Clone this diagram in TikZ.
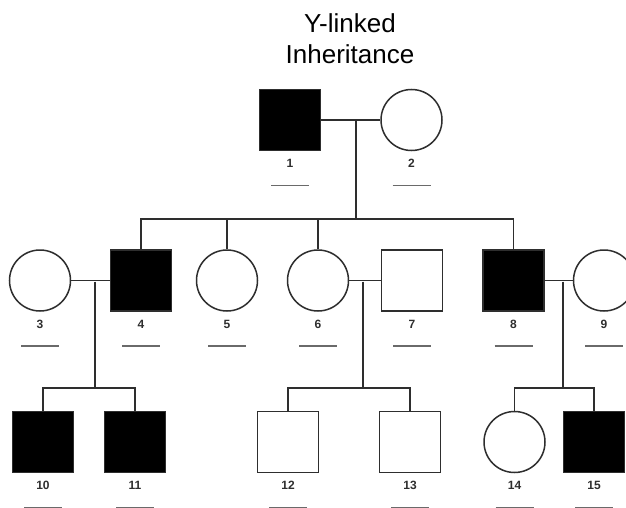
\documentclass[tikz,border=0pt]{standalone}
\usepackage{fontspec}
\setmainfont{Liberation Sans}
\usetikzlibrary{positioning,calc}
\definecolor{inkline}{HTML}{2E2E2E}
\definecolor{blankline}{HTML}{6A6A6A}

\begin{document}
\begin{tikzpicture}[
  x=1pt, y=-1pt,
  male/.style={rectangle, draw=inkline, line width=1.5pt, fill=white, minimum size=61pt, inner sep=0pt},
  female/.style={circle, draw=inkline, line width=1.5pt, fill=white, minimum size=61pt, inner sep=0pt},
  aff/.style={fill=black},
  num/.style={font=\fontsize{12}{13}\selectfont\bfseries, text=inkline, inner sep=0pt, below=8pt of #1},
  tie/.style={draw=inkline, line width=1.5pt},
  blank/.style={draw=blankline, line width=1.6pt},
  ttl/.style={font=\fontsize{26}{31}\selectfont, align=center, inner sep=0pt, anchor=north},
]
\useasboundingbox[fill=white] (0,0) rectangle (626,508);

% ---- title ----
\node[ttl] (title) at (350,13) {Y-linked\\Inheritance};

% ---- generation I ----
\node[male, aff] (p1) at (290,120) {};
\node[female]    (p2) at (411.5,120) {};

% ---- generation II ----
\node[female]    (p3) at (40,280.5) {};
\node[male, aff] (p4) at (141,280.5) {};
\node[female]    (p5) at (227,280.5) {};
\node[female]    (p6) at (318,280.5) {};
\node[male]      (p7) at (412,280.5) {};
\node[male, aff] (p8) at (513.5,280.5) {};
\node[female]    (p9) at (604,280.5) {};

% ---- generation III ----
\node[male, aff] (p10) at (43,442) {};
\node[male, aff] (p11) at (135,442) {};
\node[male]      (p12) at (288,442) {};
\node[male]      (p13) at (410,442) {};
\node[female]    (p14) at (514.5,442) {};
\node[male, aff] (p15) at (594,442) {};

% ---- numbers + blanks ----
\foreach \n in {1,...,15} {
  \node[num=p\n] (l\n) {\n};
  \draw[blank] ([xshift=-19pt,yshift=-22pt]l\n.center) -- ++(38,0);
}

% ---- matings and sibships ----
\coordinate (m12) at (356,120);
\coordinate (s12) at (356,219);
\draw[tie] (p1) -- (p2);
\draw[tie] (m12) -- (s12);
\draw[tie] (p4.north) -- (p4.north |- s12) -- (p8.north |- s12) -- (p8.north);
\draw[tie] (p5.north) -- (p5.north |- s12);
\draw[tie] (p6.north) -- (p6.north |- s12);

\coordinate (m34) at (95,281.5);
\coordinate (s34) at (95,388);
\draw[tie] (p3) -- (p4);
\draw[tie] (m34) -- (s34);
\draw[tie] (p10.north) -- (p10.north |- s34) -- (p11.north |- s34) -- (p11.north);

\coordinate (m67) at (363,281.5);
\coordinate (s67) at (363,388);
\draw[tie] (p6) -- (p7);
\draw[tie] (m67) -- (s67);
\draw[tie] (p12.north) -- (p12.north |- s67) -- (p13.north |- s67) -- (p13.north);

\coordinate (m89) at (563,281.5);
\coordinate (s89) at (563,388);
\draw[tie] (p8) -- (p9);
\draw[tie] (m89) -- (s89);
\draw[tie] (p14.north) -- (p14.north |- s89) -- (p15.north |- s89) -- (p15.north);

\end{tikzpicture}
\end{document}
